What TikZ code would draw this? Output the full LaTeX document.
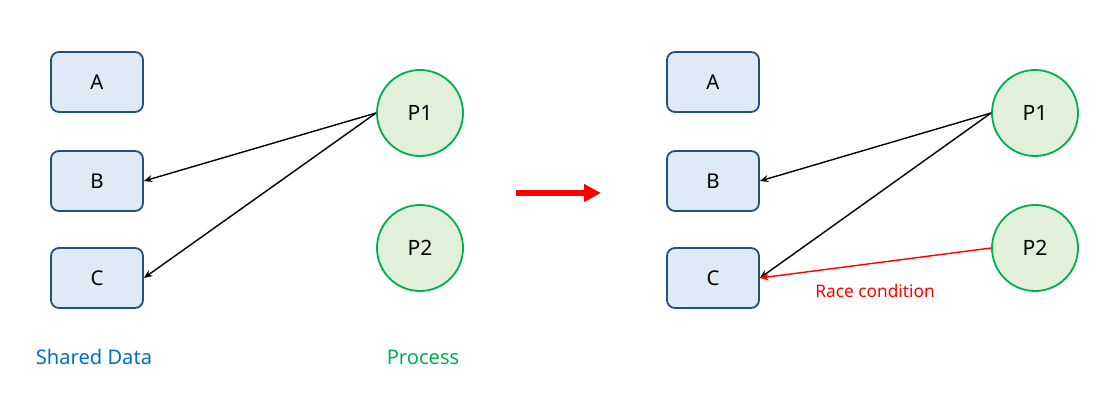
\documentclass[tikz,border=0pt]{standalone}
\usepackage{fontspec}
\setmainfont{Noto Sans}
\usetikzlibrary{arrows.meta, positioning}

\definecolor{boxfill}{HTML}{DEEAF6}
\definecolor{boxline}{HTML}{24507D}
\definecolor{procfill}{HTML}{E2F0D9}
\definecolor{procline}{HTML}{00B050}
\definecolor{datablue}{HTML}{0070C0}

\begin{document}
\begin{tikzpicture}[x=0.025cm, y=-0.025cm,
        data/.style={draw=boxline, line width=1.3pt, rounded corners=0.2cm, fill=boxfill, minimum width=2.3cm, minimum height=1.5cm, font=\fontsize{14.5}{16}\selectfont},
        proc/.style={draw=procline, line width=1.3pt, circle, fill=procfill, minimum size=2.15cm, font=\fontsize{15}{17}\selectfont},
        arrow/.style={-{Stealth[length=6pt, width=5pt]}, line width=1pt},
        caption/.style={font=\fontsize{14.3}{16}\selectfont}
    ]
        \useasboundingbox (0,0) rectangle (1107,399);

        % Before: shared data (left column)
        \node[data] (a1) at (97, 82) {A};
        \node[data] (b1) at (97, 181) {B};
        \node[data] (c1) at (97, 278) {C};

        % Before: processes
        \node[proc] (p11) at (420, 113) {P1};
        \node[proc] (p21) at (420, 248) {P2};

        \draw[arrow] (p11.west) -- (b1.east);
        \draw[arrow] (p11.west) -- (c1.east);

        \node[caption, text=datablue] (shared) at (94, 357) {Shared Data};
        \node[caption, text=procline] (process) at (423, 357) {Process};

        % Transition arrow
        \coordinate (t0) at (516, 193);
        \coordinate (t1) at (601, 193);
        \draw[-{Triangle[length=12pt, width=12pt]}, red, line width=4.2pt] (t0) -- (t1);

        % After: shared data
        \node[data] (a2) at (713, 82) {A};
        \node[data] (b2) at (713, 181) {B};
        \node[data] (c2) at (713, 278) {C};

        % After: processes
        \node[proc] (p12) at (1035, 113) {P1};
        \node[proc] (p22) at (1035, 248) {P2};

        \draw[arrow] (p12.west) -- (b2.east);
        \draw[arrow] (p12.west) -- (c2.east);
        \draw[arrow, red] (p22.west) -- (c2.east);
        \node[font=\fontsize{12.3}{14}\selectfont, text=red] (race) at (875, 291) {Race condition};

    \end{tikzpicture}
\end{document}
